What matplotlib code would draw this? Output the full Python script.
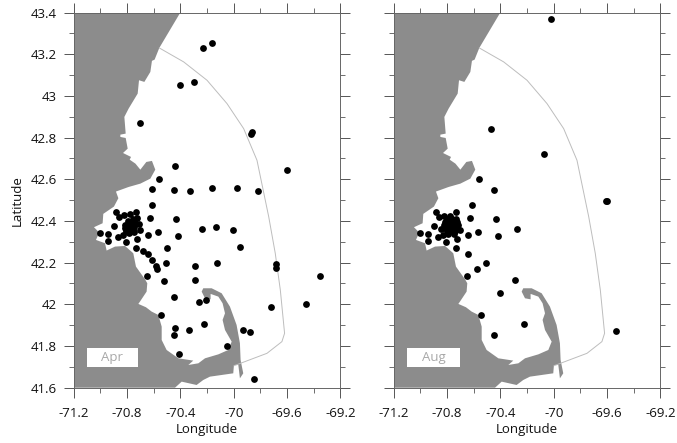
import matplotlib
matplotlib.use('Agg')
import matplotlib.pyplot as plt
from matplotlib.patches import Rectangle

plt.rcParams['font.family'] = ['Open Sans', 'DejaVu Sans']

# stations
aprLon = [-70.23, -70.16, -70.405, -70.30, -70.705, -69.86, -69.87, -69.6, -70.44, -70.56,
          -70.615, -70.445, -70.33, -70.16, -69.975, -69.82, -70.615,
          -70.885, -70.86, -70.82, -70.78, -70.73, -70.63, -70.43, -70.895, -71.0, -70.94,
          -70.94, -70.87, -70.83, -70.805, -70.725, -70.73, -70.68, -70.64, -70.615, -70.58,
          -70.575, -70.51, -70.5, -70.57, -70.645, -70.42, -70.24, -70.13, -70.005, -69.95,
          -70.125, -70.29, -70.29, -69.685, -69.685, -69.35, -70.648, -70.525, -70.445,
          -70.258, -70.21, -69.72, -69.46, -70.545, -70.225, -70.437, -70.337, -70.45,
          -69.93, -69.877, -70.052, -70.41, -69.85,
          -70.813, -70.775, -70.738, -70.713, -70.725, -70.755, -70.795, -70.813, -70.78,
          -70.75, -70.705, -70.75, -70.788, -70.805, -70.763]
aprLat = [43.232, 43.256, 43.053, 43.067, 42.87, 42.827, 42.819, 42.645, 42.662, 42.6,
          42.555, 42.549, 42.542, 42.56, 42.56, 42.542, 42.478,
          42.442, 42.419, 42.427, 42.434, 42.443, 42.413, 42.41, 42.374, 42.341, 42.339,
          42.306, 42.322, 42.331, 42.299, 42.315, 42.269, 42.254, 42.243, 42.211, 42.182,
          42.171, 42.197, 42.269, 42.346, 42.331, 42.33, 42.36, 42.373, 42.357, 42.275,
          42.197, 42.184, 42.117, 42.192, 42.176, 42.138, 42.138, 42.112, 42.035,
          42.013, 42.019, 41.989, 42.002, 41.95, 41.907, 41.885, 41.878, 41.851,
          41.878, 41.866, 41.802, 41.763, 41.642,
          42.381, 42.386, 42.389, 42.386, 42.413, 42.408, 42.402, 42.365, 42.365,
          42.373, 42.357, 42.349, 42.341, 42.352, 42.392]

augLon = [-70.02, -70.47, -70.07, -69.6, -69.61, -70.56, -70.445, -70.615,
          -70.885, -70.86, -70.63, -70.43, -70.895, -71.0, -70.94, -70.94, -70.87, -70.83,
          -70.805, -70.725, -70.73, -70.64, -70.575, -70.51, -70.648, -70.29, -70.405,
          -70.545, -70.225, -70.45, -69.535, -70.275, -70.42, -70.57, -70.645, -70.843,
          -70.82, -70.78, -70.80, -70.76, -70.73, -70.815, -70.785, -70.755, -70.725,
          -70.825, -70.80, -70.77, -70.74, -70.715, -70.815, -70.785, -70.755, -70.725,
          -70.80, -70.77, -70.74, -70.705, -70.79, -70.75, -70.73]
augLat = [43.37, 42.84, 42.723, 42.494, 42.496, 42.6, 42.549, 42.478,
          42.442, 42.419, 42.413, 42.41, 42.374, 42.341, 42.339, 42.306, 42.322, 42.331,
          42.299, 42.315, 42.269, 42.243, 42.171, 42.197, 42.138, 42.117, 42.053,
          41.95, 41.907, 41.851, 41.872, 42.362, 42.33, 42.346, 42.331, 42.36,
          42.425, 42.425, 42.41, 42.41, 42.41, 42.395, 42.395, 42.395, 42.395,
          42.38, 42.38, 42.38, 42.38, 42.38, 42.365, 42.365, 42.365, 42.365,
          42.35, 42.35, 42.35, 42.357, 42.338, 42.338, 42.443]

# coastline, closed round the west side of the map
landLon = [-70.4, -70.558, -70.593, -70.613, -70.625, -70.67, -70.71, -70.72, -70.788, -70.82,
           -70.81, -70.85, -70.85, -70.81, -70.795, -70.83, -70.77, -70.78, -70.737, -70.7,
           -70.655, -70.613, -70.588, -70.625, -70.7, -70.788, -70.883, -70.865, -70.898,
           -70.978, -70.983, -71.048, -71.008, -71.033, -70.965, -70.953, -70.89, -70.815,
           -70.753, -70.733, -70.665, -70.648, -70.653, -70.703, -70.715, -70.658, -70.615,
           -70.565, -70.54, -70.54, -70.503, -70.415, -70.303, -70.34, -70.265, -70.215,
           -70.115, -70.04, -70.015, -70.065, -70.083, -70.065, -70.083, -70.115, -70.173,
           -70.173, -70.215, -70.24, -70.228, -70.165, -70.09, -70.028, -69.978, -69.953,
           -69.948, -69.928, -69.953, -69.965, -69.998, -70.003, -70.178, -70.228, -70.278,
           -70.39, -70.44, -71.2, -71.2]
landLat = [43.4, 43.23, 43.174, 43.168, 43.115, 43.067, 43.075, 43.011, 42.939, 42.899,
           42.819, 42.814, 42.803, 42.798, 42.747, 42.726, 42.707, 42.694, 42.675, 42.646,
           42.683, 42.688, 42.646, 42.603, 42.579, 42.563, 42.541, 42.509, 42.469,
           42.434, 42.389, 42.37, 42.344, 42.309, 42.293, 42.258, 42.277, 42.28,
           42.245, 42.181, 42.12, 42.101, 42.061, 42.013, 42.002, 41.986, 41.965,
           41.949, 41.893, 41.829, 41.781, 41.741, 41.73, 41.709, 41.717, 41.741,
           41.76, 41.781, 41.821, 41.877, 41.925, 41.957, 42.005, 42.037, 42.05,
           42.024, 42.029, 42.061, 42.077, 42.077, 42.053, 41.989, 41.901, 41.813,
           41.733, 41.669, 41.645, 41.709, 41.709, 41.669, 41.653, 41.637, 41.613,
           41.629, 41.6, 41.6, 43.4]

# outer boundary line
boundLon = [-70.558, -70.375, -70.2, -70.05, -69.925, -69.825, -69.737, -69.688, -69.65,
            -69.618, -69.638, -69.75, -69.995]
boundLat = [43.23, 43.163, 43.075, 42.963, 42.843, 42.691, 42.42, 42.245, 42.069,
            41.861, 41.821, 41.765, 41.706]

xTicks = [-71.2, -70.8, -70.4, -70, -69.6, -69.2]
xLabels = ['-71.2', '-70.8', '-70.4', '-70', '-69.6', '-69.2']
yTicks = [41.6, 41.8, 42, 42.2, 42.4, 42.6, 42.8, 43, 43.2, 43.4]
yLabels = ['41.6', '41.8', '42', '42.2', '42.4', '42.6', '42.8', '43', '43.2', '43.4']
xMinor = [-71.0, -70.6, -70.2, -69.8, -69.4]
yMinor = [41.7, 41.9, 42.1, 42.3, 42.5, 42.7, 42.9, 43.1, 43.3]

W, H = 677.0, 443.0
fig = plt.figure(figsize=(6.77, 4.43), dpi=100)
axL = fig.add_axes([73.7 / W, 1 - 387.7 / H, 266.6 / W, 375.2 / H])
axR = fig.add_axes([393.7 / W, 1 - 387.7 / H, 266.6 / W, 375.2 / H])


def drawPanel(ax, lon, lat, name, boxWidth):
    ax.fill(landLon, landLat, color='#8c8c8c', lw=0, zorder=1)
    ax.plot(boundLon, boundLat, color='#bdbdbd', lw=0.7, zorder=2)
    ax.scatter(lon, lat, s=24, c='black', lw=0, zorder=3)
    ax.add_patch(Rectangle((-71.098, 41.70), boxWidth, 0.092, fc='white', ec='none', zorder=4))
    ax.text(-71.098 + boxWidth / 2, 41.746, name, color='#a8a8a8', fontsize=9.5,
            ha='center', va='center', zorder=5)
    ax.set_xlim(-71.2, -69.2)
    ax.set_ylim(41.6, 43.4)
    ax.set_xticks(xTicks)
    ax.set_xticklabels(xLabels)
    ax.set_yticks(yTicks)
    ax.set_xticks(xMinor, minor=True)
    ax.set_yticks(yMinor, minor=True)
    ax.tick_params(which='major', direction='out', length=7.2, width=0.7, color='#555555',
                   top=True, right=True, labelsize=9.5, labelcolor='#111111')
    ax.tick_params(axis='x', which='major', pad=6.5)
    ax.tick_params(axis='y', which='major', pad=5)
    ax.tick_params(which='minor', direction='out', length=3.6, width=0.6, color='#555555',
                   top=True, right=True)
    for s in ax.spines.values():
        s.set_color('#666666')
        s.set_linewidth(0.7)
    ax.set_xlabel('Longitude', fontsize=9.5, color='#111111', labelpad=2.5)


drawPanel(axL, aprLon, aprLat, 'Apr', 0.378)
drawPanel(axR, augLon, augLat, 'Aug', 0.395)

axL.set_yticklabels(yLabels)
axL.set_ylabel('Latitude', fontsize=9.5, color='#111111', labelpad=5)
axR.set_yticklabels([])

fig.savefig('out.png', dpi=100)
